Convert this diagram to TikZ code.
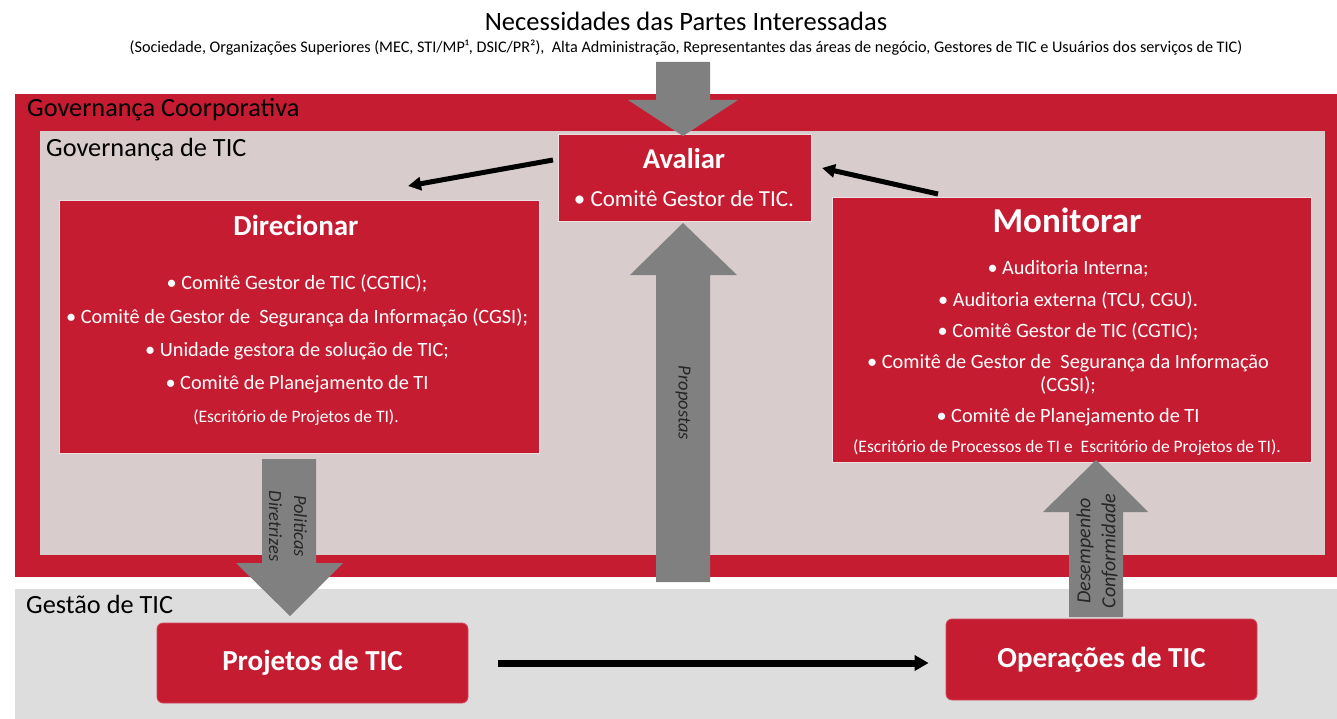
\documentclass[tikz,border=0pt]{standalone}
\usepackage{fontspec}
\setmainfont{Carlito}
\usetikzlibrary{arrows.meta}
\definecolor{govred}{RGB}{198,28,50}
\definecolor{govgray}{RGB}{216,204,205}
\definecolor{gestgray}{RGB}{221,221,221}
\definecolor{arrgray}{RGB}{128,128,128}
\definecolor{edgelight}{RGB}{235,225,226}
\tikzset{
  redbox/.style={fill=govred, draw=edgelight, line width=1pt, inner sep=0pt},
  roundbox/.style={fill=govred, draw=govred!80!white, line width=0.8pt, rounded corners=6pt, inner sep=0pt, text=white, font=\fontsize{29}{33}\selectfont\bfseries},
  boxtitle/.style={text=white, anchor=base, inner sep=0pt, font=\fontsize{29}{33}\selectfont\bfseries},
  item/.style={text=white, anchor=base, inner sep=0pt, font=\fontsize{20.3}{24}\selectfont},
  smallitem/.style={text=white, anchor=base, inner sep=0pt, font=\fontsize{17.5}{20}\selectfont},
  layerlabel/.style={text=black, anchor=base west, inner sep=0pt, font=\fontsize{26.3}{30}\selectfont},
  blockarrow/.style={fill=arrgray},
  vlabel/.style={text=black!85, inner sep=0pt, align=center, font=\fontsize{18.5}{25}\selectfont\itshape},
  blackarrow/.style={draw=black, line width=5pt, -{Triangle[length=13pt,width=13pt]}},
}
\begin{document}
\begin{tikzpicture}[x=1pt,y=-1pt]
\useasboundingbox (0,0) rectangle (1337,719);
\fill[white] (0,0) rectangle (1337,719);

% title
\node[anchor=base, inner sep=0pt, font=\fontsize{26.5}{30}\selectfont] (title) at (686,31) {Necessidades das Partes Interessadas};
\node[anchor=base, inner sep=0pt, font=\fontsize{16.2}{19}\selectfont] (subtitle) at (686,53) {(Sociedade, Organizações Superiores (MEC, STI/MP¹, DSIC/PR²),\ \ Alta Administração, Representantes das áreas de negócio, Gestores de TIC e Usuários dos serviços de TIC)};

% layers
\fill[govred] (15,94) rectangle (1337,577);
\fill[govgray] (40,131) rectangle (1325,555);
\fill[gestgray] (15,589) rectangle (1337,719);
\node[layerlabel] (govcorp) at (27,117) {Governança Coorporativa};
\node[layerlabel] (govtic) at (46,157) {Governança de TIC};
\node[layerlabel] (gestic) at (26,613) {Gestão de TIC};

% Avaliar
\node[redbox, minimum width=253pt, minimum height=87pt] (aval) at (684.5,178.5) {};
\node[boxtitle, font=\fontsize{28.6}{32}\selectfont\bfseries] (avalt) at (684,169) {Avaliar};
\node[item, font=\fontsize{23}{27}\selectfont] (avali) at (684,207) {• Comitê Gestor de TIC.};

% Direcionar
\node[redbox, minimum width=480pt, minimum height=252pt] (dir) at (299,327) {};
\node[boxtitle] (dirt) at (296,236) {Direcionar};
\node[item] (dir1) at (297,289) {• Comitê Gestor de TIC (CGTIC);};
\node[item] (dir2) at (297,323) {• Comitê de Gestor de\ \ Segurança da Informação (CGSI);};
\node[item] (dir3) at (297,356) {• Unidade gestora de solução de TIC;};
\node[item] (dir4) at (297,389) {• Comitê de Planejamento de TI};
\node[smallitem] (dir5) at (296,422) {(Escritório de Projetos de TI).};

% Monitorar
\node[redbox, minimum width=479pt, minimum height=264pt] (mon) at (1071.5,330) {};
\node[boxtitle, font=\fontsize{35}{40}\selectfont\bfseries] (mont) at (1067,233) {Monitorar};
\node[item] (mon1) at (1068,274) {• Auditoria Interna;};
\node[item] (mon2) at (1068,306) {• Auditoria externa (TCU, CGU).};
\node[item] (mon3) at (1068,337) {• Comitê Gestor de TIC (CGTIC);};
\node[item] (mon4) at (1068,368) {• Comitê de Gestor de\ \ Segurança da Informação};
\node[item] (mon5) at (1068,391) {(CGSI);};
\node[item] (mon6) at (1068,422) {• Comitê de Planejamento de TI};
\node[smallitem] (mon7) at (1067,452) {(Escritório de Processos de TI e\ \ Escritório de Projetos de TI).};

% Gestão boxes
\node[roundbox, minimum width=311pt, minimum height=80pt] (proj) at (312.5,663) {Projetos de TIC};
\node[roundbox, minimum width=311pt, minimum height=81pt] (oper) at (1101.5,659.5) {Operações de TIC};

% gray block arrows
\fill[blockarrow] (656,62) -- (710,62) -- (710,100) -- (738,100) -- (683,136) -- (628,100) -- (656,100) -- cycle;
\fill[blockarrow] (656,582) -- (710,582) -- (710,275) -- (737,275) -- (683,223) -- (630,275) -- (656,275) -- cycle;
\fill[blockarrow] (262,459) -- (316,459) -- (316,563) -- (343,563) -- (290,616) -- (236,563) -- (262,563) -- cycle;
\fill[blockarrow] (1069,617) -- (1123,617) -- (1123,512) -- (1148,512) -- (1096,460) -- (1043,512) -- (1069,512) -- cycle;

\node[vlabel, rotate=-90] (lprop) at (683,403) {Propostas};
\node[vlabel, rotate=-90] (lpol) at (288,526) {Politicas\\Diretrizes};
\node[vlabel, rotate=90, font=\fontsize{20}{25}\selectfont\itshape] (ldes) at (1097,551) {Desempenho\\Conformidade};

% black arrows
\coordinate (a1s) at (553,160);
\coordinate (a1e) at (408,186);
\coordinate (a2s) at (938,194);
\coordinate (a2e) at (822,168);
\draw[blackarrow] (a1s) -- (a1e);
\draw[blackarrow] (a2s) -- (a2e);
\draw[draw=black, line width=7pt, -{Triangle[length=14pt,width=15pt]}] (proj.east) ++(30pt,0) coordinate (hs) -- ([xshift=-17pt]oper.west |- hs);
\end{tikzpicture}
\end{document}
